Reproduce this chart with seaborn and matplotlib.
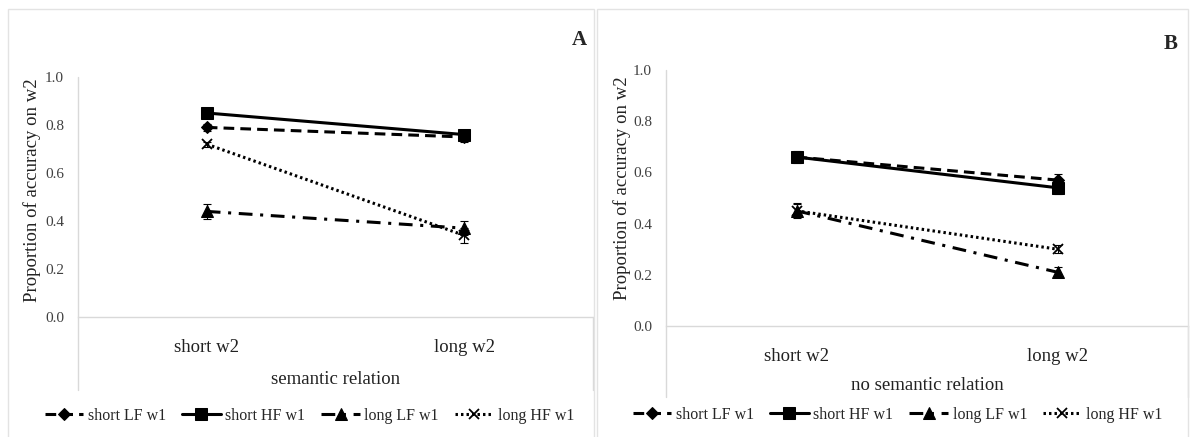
import numpy as np
import pandas as pd
import seaborn as sns
import matplotlib.pyplot as plt
from matplotlib.patches import Rectangle

# data
conditions = ["short w2", "long w2"]
series = ["short LF w1", "short HF w1", "long LF w1", "long HF w1"]

sem_vals = {
    "short LF w1": [0.79, 0.75],
    "short HF w1": [0.85, 0.76],
    "long LF w1": [0.44, 0.37],
    "long HF w1": [0.72, 0.34],
}
sem_err = {
    "short LF w1": [0.015, 0.02],
    "short HF w1": [0.01, 0.015],
    "long LF w1": [0.03, 0.03],
    "long HF w1": [0.01, 0.03],
}
nosem_vals = {
    "short LF w1": [0.66, 0.57],
    "short HF w1": [0.66, 0.54],
    "long LF w1": [0.45, 0.21],
    "long HF w1": [0.45, 0.30],
}
nosem_err = {
    "short LF w1": [0.025, 0.025],
    "short HF w1": [0.02, 0.025],
    "long LF w1": [0.025, 0.02],
    "long HF w1": [0.03, 0.015],
}

styles = {
    "short LF w1": dict(marker="D", markersize=6, dashes=(3.5, 2)),
    "short HF w1": dict(marker="s", markersize=8),
    "long LF w1": dict(marker="^", markersize=8, dashes=(4.5, 2.5, 1, 2.5)),
    "long HF w1": dict(marker="x", markersize=7, markeredgewidth=1.3, dashes=(0.8, 1.0)),
}

sns.set_style("white")
plt.rcParams["font.family"] = ["Liberation Serif", "DejaVu Serif"]

fig = plt.figure(figsize=(11.9, 4.37), dpi=100)

# panel borders
for x0, w in [(8 / 1190, 586 / 1190), (597 / 1190, 591 / 1190)]:
    fig.patches.append(Rectangle((x0, -0.02), w, 1 - 9 / 437 + 0.02, transform=fig.transFigure,
                                 fill=False, edgecolor="#e3e3e3", lw=1))

panels = [
    dict(rect=[78 / 1190, 1 - 317 / 437, 515 / 1190, 240 / 437], vals=sem_vals, err=sem_err,
         xlabel="semantic relation", letter="A", ext=-0.304, lab_y=-0.2625,
         yl=(-0.089, 0.53), leg=(0.45, -0.4125), let_xy=(579 / 1190, 1 - 40 / 437)),
    dict(rect=[666 / 1190, 1 - 326 / 437, 522 / 1190, 256 / 437], vals=nosem_vals, err=nosem_err,
         xlabel="no semantic relation", letter="B", ext=-0.277, lab_y=-0.234,
         yl=(-0.084, 0.54), leg=(0.444, -0.348), let_xy=(1171 / 1190, 1 - 44 / 437)),
]

for p in panels:
    ax = fig.add_axes(p["rect"])
    for s in series:
        st = dict(styles[s])
        dashes = st.pop("dashes", None)
        sns.lineplot(x=conditions, y=p["vals"][s], ax=ax, color="black", lw=2.2,
                     markeredgecolor="black", label=s, **st)
        line = ax.lines[-1]
        if dashes is not None:
            line.set_dashes(dashes)
        ax.errorbar(conditions, p["vals"][s], yerr=p["err"][s], fmt="none",
                    ecolor="black", elinewidth=0.8, capsize=3, capthick=0.8)

    ax.set_xlim(-0.5, 1.5)
    ax.set_ylim(0, 1.0)
    ax.set_yticks(np.arange(0, 1.01, 0.2))
    ax.set_yticklabels([f"{v:.1f}" for v in np.arange(0, 1.01, 0.2)])
    ax.tick_params(axis="y", length=0, pad=10, labelsize=11, labelcolor="#404040")
    ax.tick_params(axis="x", length=0, pad=16, labelsize=13.5, labelcolor="#222222")

    for side in ["top", "right"]:
        ax.spines[side].set_visible(False)
    ax.spines["left"].set_visible(False)
    ax.spines["bottom"].set_color("#d9d9d9")
    ax.spines["bottom"].set_linewidth(1)
    ax.axvline(-0.5, ymin=p["ext"], ymax=1, color="#d9d9d9", lw=1, clip_on=False, zorder=0)
    ax.axvline(1.5, ymin=p["ext"], ymax=0, color="#d9d9d9", lw=1, clip_on=False, zorder=0)

    ax.set_xlabel(p["xlabel"], fontsize=13.5, color="#222222")
    ax.xaxis.label.set_va("center")
    ax.xaxis.set_label_coords(0.5, p["lab_y"])
    ax.set_ylabel("Proportion of accuracy on w2", fontsize=13.5, color="#222222")
    ax.yaxis.label.set_va("center")
    ax.yaxis.set_label_coords(*p["yl"])

    ax.legend(loc="center", bbox_to_anchor=p["leg"], ncol=4, frameon=False, fontsize=11.5,
              handlelength=2.4, handletextpad=0.3, columnspacing=1.0)

    fig.text(p["let_xy"][0], p["let_xy"][1], p["letter"], fontsize=15, fontweight="bold",
             ha="center", va="center")

fig.savefig("out.png", dpi=100, facecolor="white")
